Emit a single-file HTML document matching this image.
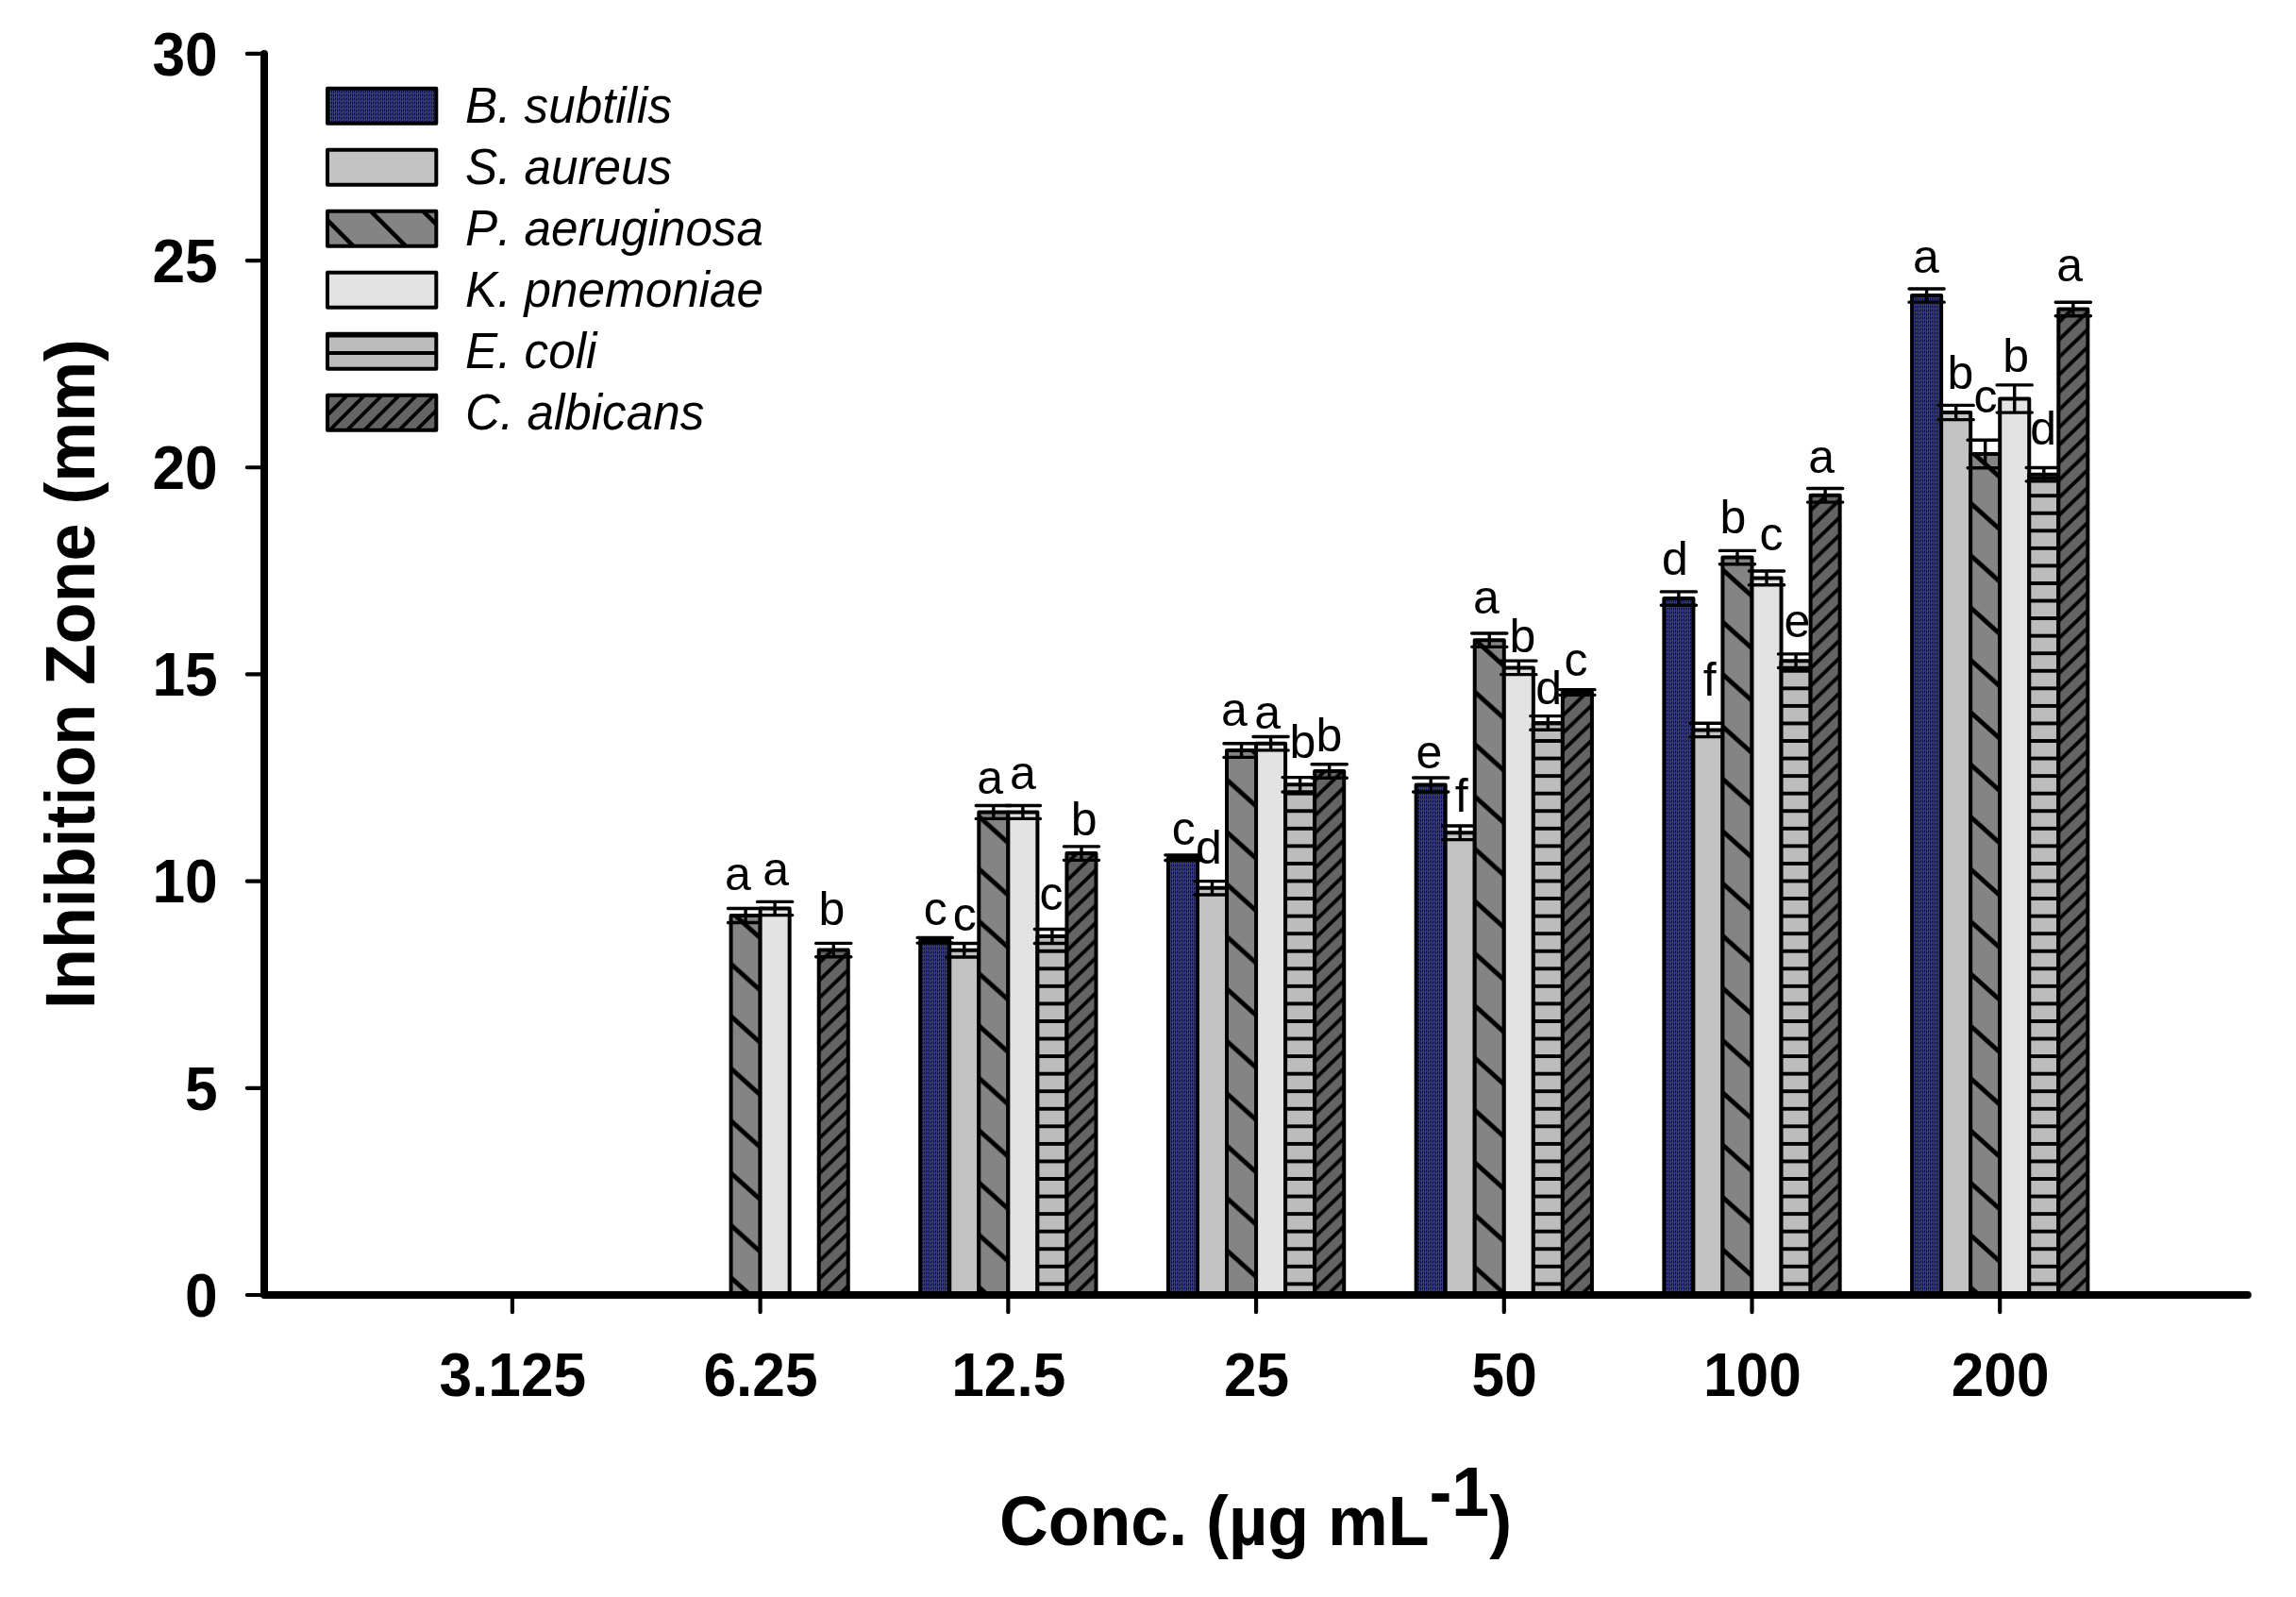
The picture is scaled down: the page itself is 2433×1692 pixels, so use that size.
<!DOCTYPE html>
<html lang="en"><head><meta charset="utf-8"><title>Inhibition Zone chart</title>
<style>html,body{margin:0;padding:0;background:#fff}body{width:2433px;height:1692px;overflow:hidden}svg{display:block}text{font-family:"Liberation Sans",sans-serif;fill:#000;font-kerning:none}.b{font-weight:bold}.i{font-style:italic}</style></head><body>
<svg width="2433" height="1692" viewBox="0 0 2433 1692">
<defs>
<pattern id="p1" patternUnits="userSpaceOnUse" width="4" height="4"><rect width="4" height="4" fill="#3e3e70"/><rect x="1" y="0" width="1" height="1" fill="#0404de"/><rect x="1" y="1" width="1" height="1" fill="#000000"/><rect x="1" y="2" width="1" height="1" fill="#282864"/><rect x="1" y="3" width="1" height="1" fill="#1e1eb4"/><rect x="3" y="0" width="1" height="1" fill="#000000"/><rect x="3" y="1" width="1" height="1" fill="#0404de"/><rect x="3" y="2" width="1" height="1" fill="#1e1eb4"/><rect x="3" y="3" width="1" height="1" fill="#282864"/></pattern>
<pattern id="p2" patternUnits="userSpaceOnUse" width="4" height="4"><rect width="4" height="4" fill="#c4c4c4"/><rect x="0" y="0" width="1" height="1" fill="#bebebe"/><rect x="2" y="1" width="1" height="1" fill="#bebebe"/><rect x="1" y="3" width="1" height="1" fill="#bfbfbf"/><rect x="3" y="2" width="1" height="1" fill="#c1c1c1"/></pattern>
<pattern id="p3g2" patternUnits="userSpaceOnUse" width="61.56" height="55.4" patternTransform="translate(0,47.2)"><rect width="62.56" height="56.4" fill="#848484"/><line x1="-61.56" y1="-110.8" x2="123.11" y2="55.4" stroke="#000" stroke-width="4.9"/><line x1="-61.56" y1="-55.4" x2="123.11" y2="110.8" stroke="#000" stroke-width="4.9"/><line x1="-61.56" y1="0" x2="123.11" y2="166.2" stroke="#000" stroke-width="4.9"/></pattern>
<pattern id="p3g3" patternUnits="userSpaceOnUse" width="61.56" height="55.4" patternTransform="translate(0,42.4)"><rect width="62.56" height="56.4" fill="#848484"/><line x1="-61.56" y1="-110.8" x2="123.11" y2="55.4" stroke="#000" stroke-width="4.9"/><line x1="-61.56" y1="-55.4" x2="123.11" y2="110.8" stroke="#000" stroke-width="4.9"/><line x1="-61.56" y1="0" x2="123.11" y2="166.2" stroke="#000" stroke-width="4.9"/></pattern>
<pattern id="p3g4" patternUnits="userSpaceOnUse" width="61.56" height="55.4" patternTransform="translate(0,44)"><rect width="62.56" height="56.4" fill="#848484"/><line x1="-61.56" y1="-110.8" x2="123.11" y2="55.4" stroke="#000" stroke-width="4.9"/><line x1="-61.56" y1="-55.4" x2="123.11" y2="110.8" stroke="#000" stroke-width="4.9"/><line x1="-61.56" y1="0" x2="123.11" y2="166.2" stroke="#000" stroke-width="4.9"/></pattern>
<pattern id="p3g5" patternUnits="userSpaceOnUse" width="61.56" height="55.4" patternTransform="translate(0,46.9)"><rect width="62.56" height="56.4" fill="#848484"/><line x1="-61.56" y1="-110.8" x2="123.11" y2="55.4" stroke="#000" stroke-width="4.9"/><line x1="-61.56" y1="-55.4" x2="123.11" y2="110.8" stroke="#000" stroke-width="4.9"/><line x1="-61.56" y1="0" x2="123.11" y2="166.2" stroke="#000" stroke-width="4.9"/></pattern>
<pattern id="p3g6" patternUnits="userSpaceOnUse" width="61.56" height="55.4" patternTransform="translate(0,13.4)"><rect width="62.56" height="56.4" fill="#848484"/><line x1="-61.56" y1="-110.8" x2="123.11" y2="55.4" stroke="#000" stroke-width="4.9"/><line x1="-61.56" y1="-55.4" x2="123.11" y2="110.8" stroke="#000" stroke-width="4.9"/><line x1="-61.56" y1="0" x2="123.11" y2="166.2" stroke="#000" stroke-width="4.9"/></pattern>
<pattern id="p3g7" patternUnits="userSpaceOnUse" width="61.56" height="55.4" patternTransform="translate(0,38.8)"><rect width="62.56" height="56.4" fill="#848484"/><line x1="-61.56" y1="-110.8" x2="123.11" y2="55.4" stroke="#000" stroke-width="4.9"/><line x1="-61.56" y1="-55.4" x2="123.11" y2="110.8" stroke="#000" stroke-width="4.9"/><line x1="-61.56" y1="0" x2="123.11" y2="166.2" stroke="#000" stroke-width="4.9"/></pattern>
<pattern id="p4" patternUnits="userSpaceOnUse" width="4" height="4"><rect width="4" height="4" fill="#e3e3e3"/><rect x="0" y="0" width="1" height="1" fill="#dbdbdb"/></pattern>
<pattern id="p5" patternUnits="userSpaceOnUse" width="40" height="18.56" patternTransform="translate(0,-70.7)"><rect width="40" height="19.56" fill="#bcbcbc"/><rect x="0" y="0" width="40" height="3.9" fill="#000"/></pattern>
<pattern id="p6" patternUnits="userSpaceOnUse" width="19.18" height="18.6" patternTransform="translate(0,2)"><rect width="20.18" height="19.6" fill="#646464"/><line x1="-19.18" y1="0" x2="38.35" y2="-55.8" stroke="#000" stroke-width="3.8"/><line x1="-19.18" y1="18.6" x2="38.35" y2="-37.2" stroke="#000" stroke-width="3.8"/><line x1="-19.18" y1="37.2" x2="38.35" y2="-18.6" stroke="#000" stroke-width="3.8"/><line x1="-19.18" y1="55.8" x2="38.35" y2="0" stroke="#000" stroke-width="3.8"/></pattern>
</defs>
<rect width="2433" height="1692" fill="#fff"/>
<g stroke="#000" stroke-linejoin="round" stroke-linecap="round">
<rect x="975.19" y="996.25" width="31.05" height="375.75" fill="url(#p1)" stroke-width="4"/>
<path d="M990.72 993.4V999.1M972.12 993.4H1009.32M972.12 999.1H1009.32" fill="none" stroke-width="3.4"/>
<rect x="1237.91" y="908.7" width="31.05" height="463.3" fill="url(#p1)" stroke-width="4"/>
<path d="M1253.43 905.85V911.55M1234.84 905.85H1272.03M1234.84 911.55H1272.03" fill="none" stroke-width="3.4"/>
<rect x="1500.63" y="831.5" width="31.05" height="540.5" fill="url(#p1)" stroke-width="4"/>
<path d="M1516.16 824.05V838.95M1497.56 824.05H1534.76M1497.56 838.95H1534.76" fill="none" stroke-width="3.4"/>
<rect x="1763.35" y="634.1" width="31.05" height="737.9" fill="url(#p1)" stroke-width="4"/>
<path d="M1778.88 626.9V641.3M1760.28 626.9H1797.47M1760.28 641.3H1797.47" fill="none" stroke-width="3.4"/>
<rect x="2026.07" y="313.1" width="31.05" height="1058.9" fill="url(#p1)" stroke-width="4"/>
<path d="M2041.6 306.05V320.15M2023 306.05H2060.2M2023 320.15H2060.2" fill="none" stroke-width="3.4"/>
<rect x="1006.24" y="1006.7" width="31.05" height="365.3" fill="url(#p2)" stroke-width="4"/>
<path d="M1021.77 999.45V1013.95M1003.17 999.45H1040.37M1003.17 1013.95H1040.37" fill="none" stroke-width="3.4"/>
<rect x="1268.96" y="940.8" width="31.05" height="431.2" fill="url(#p2)" stroke-width="4"/>
<path d="M1284.49 933.65V947.95M1265.89 933.65H1303.09M1265.89 947.95H1303.09" fill="none" stroke-width="3.4"/>
<rect x="1531.68" y="882.3" width="31.05" height="489.7" fill="url(#p2)" stroke-width="4"/>
<path d="M1547.21 874.95V889.65M1528.61 874.95H1565.81M1528.61 889.65H1565.81" fill="none" stroke-width="3.4"/>
<rect x="1794.4" y="773.4" width="31.05" height="598.6" fill="url(#p2)" stroke-width="4"/>
<path d="M1809.93 766.2V780.6M1791.33 766.2H1828.53M1791.33 780.6H1828.53" fill="none" stroke-width="3.4"/>
<rect x="2057.12" y="437" width="31.05" height="935" fill="url(#p2)" stroke-width="4"/>
<path d="M2072.65 429.4V444.6M2054.05 429.4H2091.25M2054.05 444.6H2091.25" fill="none" stroke-width="3.4"/>
<rect x="774.57" y="970" width="31.05" height="402" fill="url(#p3g2)" stroke-width="4"/>
<path d="M790.1 962.45V977.55M771.5 962.45H808.7M771.5 977.55H808.7" fill="none" stroke-width="3.4"/>
<rect x="1037.29" y="860.45" width="31.05" height="511.55" fill="url(#p3g3)" stroke-width="4"/>
<path d="M1052.82 853.5V867.4M1034.22 853.5H1071.42M1034.22 867.4H1071.42" fill="none" stroke-width="3.4"/>
<rect x="1300.01" y="795.1" width="31.05" height="576.9" fill="url(#p3g4)" stroke-width="4"/>
<path d="M1315.54 787.8V802.4M1296.94 787.8H1334.13M1296.94 802.4H1334.13" fill="none" stroke-width="3.4"/>
<rect x="1562.73" y="678.2" width="31.05" height="693.8" fill="url(#p3g5)" stroke-width="4"/>
<path d="M1578.26 671.05V685.35M1559.66 671.05H1596.86M1559.66 685.35H1596.86" fill="none" stroke-width="3.4"/>
<rect x="1825.45" y="590.6" width="31.05" height="781.4" fill="url(#p3g6)" stroke-width="4"/>
<path d="M1840.98 583.4V597.8M1822.38 583.4H1859.58M1822.38 597.8H1859.58" fill="none" stroke-width="3.4"/>
<rect x="2088.17" y="481" width="31.05" height="891" fill="url(#p3g7)" stroke-width="4"/>
<path d="M2103.7 466.2V495.8M2085.1 466.2H2122.3M2085.1 495.8H2122.3" fill="none" stroke-width="3.4"/>
<rect x="805.62" y="962.5" width="31.05" height="409.5" fill="url(#p4)" stroke-width="4"/>
<path d="M821.14 955.4V969.6M802.54 955.4H839.75M802.54 969.6H839.75" fill="none" stroke-width="3.4"/>
<rect x="1068.34" y="860.45" width="31.05" height="511.55" fill="url(#p4)" stroke-width="4"/>
<path d="M1083.87 853.5V867.4M1065.27 853.5H1102.47M1065.27 867.4H1102.47" fill="none" stroke-width="3.4"/>
<rect x="1331.06" y="787.7" width="31.05" height="584.3" fill="url(#p4)" stroke-width="4"/>
<path d="M1346.59 780.5V794.9M1327.99 780.5H1365.18M1327.99 794.9H1365.18" fill="none" stroke-width="3.4"/>
<rect x="1593.78" y="707.4" width="31.05" height="664.6" fill="url(#p4)" stroke-width="4"/>
<path d="M1609.31 700.15V714.65M1590.71 700.15H1627.91M1590.71 714.65H1627.91" fill="none" stroke-width="3.4"/>
<rect x="1856.5" y="612.4" width="31.05" height="759.6" fill="url(#p4)" stroke-width="4"/>
<path d="M1872.03 605.05V619.75M1853.43 605.05H1890.62M1853.43 619.75H1890.62" fill="none" stroke-width="3.4"/>
<rect x="2119.22" y="422.5" width="31.05" height="949.5" fill="url(#p4)" stroke-width="4"/>
<path d="M2134.75 407.9V437.1M2116.15 407.9H2153.35M2116.15 437.1H2153.35" fill="none" stroke-width="3.4"/>
<rect x="1099.39" y="992" width="31.05" height="380" fill="url(#p5)" stroke-width="4"/>
<path d="M1114.92 984.5V999.5M1096.32 984.5H1133.52M1096.32 999.5H1133.52" fill="none" stroke-width="3.4"/>
<rect x="1362.11" y="831.3" width="31.05" height="540.7" fill="url(#p5)" stroke-width="4"/>
<path d="M1377.63 823.6V839M1359.04 823.6H1396.23M1359.04 839H1396.23" fill="none" stroke-width="3.4"/>
<rect x="1624.83" y="765.9" width="31.05" height="606.1" fill="url(#p5)" stroke-width="4"/>
<path d="M1640.36 758.6V773.2M1621.76 758.6H1658.96M1621.76 773.2H1658.96" fill="none" stroke-width="3.4"/>
<rect x="1887.55" y="700.2" width="31.05" height="671.8" fill="url(#p5)" stroke-width="4"/>
<path d="M1903.08 692.9V707.5M1884.48 692.9H1921.67M1884.48 707.5H1921.67" fill="none" stroke-width="3.4"/>
<rect x="2150.27" y="502.7" width="31.05" height="869.3" fill="url(#p5)" stroke-width="4"/>
<path d="M2165.8 495.55V509.85M2147.2 495.55H2184.4M2147.2 509.85H2184.4" fill="none" stroke-width="3.4"/>
<rect x="867.72" y="1006.6" width="31.05" height="365.4" fill="url(#p6)" stroke-width="4"/>
<path d="M883.25 999.4V1013.8M864.64 999.4H901.85M864.64 1013.8H901.85" fill="none" stroke-width="3.4"/>
<rect x="1130.44" y="904.1" width="31.05" height="467.9" fill="url(#p6)" stroke-width="4"/>
<path d="M1145.97 896.85V911.35M1127.37 896.85H1164.57M1127.37 911.35H1164.57" fill="none" stroke-width="3.4"/>
<rect x="1393.16" y="817" width="31.05" height="555" fill="url(#p6)" stroke-width="4"/>
<path d="M1408.68 809.8V824.2M1390.09 809.8H1427.28M1390.09 824.2H1427.28" fill="none" stroke-width="3.4"/>
<rect x="1655.88" y="733.5" width="31.05" height="638.5" fill="url(#p6)" stroke-width="4"/>
<path d="M1671.41 730.65V736.35M1652.81 730.65H1690.01M1652.81 736.35H1690.01" fill="none" stroke-width="3.4"/>
<rect x="1918.6" y="524.8" width="31.05" height="847.2" fill="url(#p6)" stroke-width="4"/>
<path d="M1934.12 517.5V532.1M1915.53 517.5H1952.72M1915.53 532.1H1952.72" fill="none" stroke-width="3.4"/>
<rect x="2181.32" y="327.5" width="31.05" height="1044.5" fill="url(#p6)" stroke-width="4"/>
<path d="M2196.85 320.3V334.7M2178.25 320.3H2215.45M2178.25 334.7H2215.45" fill="none" stroke-width="3.4"/>
</g>
<g stroke="#000" stroke-linecap="round" fill="none">
<path d="M280 56.9V1372H2381.8" stroke-width="8" stroke-linejoin="round"/>
<path d="M261.8 1372H280M261.8 1152.82H280M261.8 933.63H280M261.8 714.45H280M261.8 495.27H280M261.8 276.08H280M261.8 56.9H280M542.9 1372V1390.2M805.62 1372V1390.2M1068.34 1372V1390.2M1331.06 1372V1390.2M1593.78 1372V1390.2M1856.5 1372V1390.2M2119.22 1372V1390.2" stroke-width="4.2"/>
</g>
<g class="b" font-size="62.2">
<text text-anchor="end" transform="translate(230.6,1394.8) scale(1,1.04)">0</text>
<text text-anchor="end" transform="translate(230.6,1175.62) scale(1,1.04)">5</text>
<text text-anchor="end" transform="translate(230.6,956.43) scale(1,1.04)">10</text>
<text text-anchor="end" transform="translate(230.6,737.25) scale(1,1.04)">15</text>
<text text-anchor="end" transform="translate(230.6,518.07) scale(1,1.04)">20</text>
<text text-anchor="end" transform="translate(230.6,298.88) scale(1,1.04)">25</text>
<text text-anchor="end" transform="translate(230.6,79.7) scale(1,1.04)">30</text>
<text text-anchor="middle" transform="translate(543.3,1479) scale(1,1.04)">3.125</text>
<text text-anchor="middle" transform="translate(806.02,1479) scale(1,1.04)">6.25</text>
<text text-anchor="middle" transform="translate(1068.74,1479) scale(1,1.04)">12.5</text>
<text text-anchor="middle" transform="translate(1331.46,1479) scale(1,1.04)">25</text>
<text text-anchor="middle" transform="translate(1594.18,1479) scale(1,1.04)">50</text>
<text text-anchor="middle" transform="translate(1856.9,1479) scale(1,1.04)">100</text>
<text text-anchor="middle" transform="translate(2119.62,1479) scale(1,1.04)">200</text>
</g>
<text class="b" font-size="71.8" text-anchor="middle" transform="translate(100.2,714) rotate(-90) scale(1,1.03)">Inhibition Zone (mm)</text>
<text class="b" font-size="71.7" text-anchor="middle" transform="translate(1330.5,1636.5) scale(1,1.03)">Conc. (µg mL<tspan dy="-30">-1</tspan><tspan dy="30">)</tspan></text>
<defs>
<clipPath id="lc0"><rect x="347" y="93.8" width="115.3" height="37"/></clipPath>
<clipPath id="lc1"><rect x="347" y="158.8" width="115.3" height="37"/></clipPath>
<clipPath id="lc2"><rect x="347" y="223.8" width="115.3" height="37"/></clipPath>
<clipPath id="lc3"><rect x="347" y="288.8" width="115.3" height="37"/></clipPath>
<clipPath id="lc4"><rect x="347" y="353.8" width="115.3" height="37"/></clipPath>
<clipPath id="lc5"><rect x="347" y="418.8" width="115.3" height="37"/></clipPath>
</defs>
<rect x="347" y="93.8" width="115.3" height="37" fill="url(#p1)"/>
<rect x="347" y="93.8" width="115.3" height="37" fill="none" stroke="#000" stroke-width="4" stroke-linejoin="round"/>
<text class="i" font-size="51.2" transform="translate(493,129.9) scale(1,1.03)">B. subtilis</text>
<rect x="347" y="158.8" width="115.3" height="37" fill="url(#p2)"/>
<rect x="347" y="158.8" width="115.3" height="37" fill="none" stroke="#000" stroke-width="4" stroke-linejoin="round"/>
<text class="i" font-size="51.2" transform="translate(493,194.9) scale(1,1.03)">S. aureus</text>
<rect x="347" y="223.8" width="115.3" height="37" fill="#848484"/>
<path d="M223.7 165.5L343.7 285.5M279.2 165.5L399.2 285.5M334.7 165.5L454.7 285.5M390.2 165.5L510.2 285.5M445.7 165.5L565.7 285.5" stroke="#000" stroke-width="4.6" fill="none" clip-path="url(#lc2)"/>
<rect x="347" y="223.8" width="115.3" height="37" fill="none" stroke="#000" stroke-width="4" stroke-linejoin="round"/>
<text class="i" font-size="51.2" transform="translate(493,259.9) scale(1,1.03)">P. aeruginosa</text>
<rect x="347" y="288.8" width="115.3" height="37" fill="url(#p4)"/>
<rect x="347" y="288.8" width="115.3" height="37" fill="none" stroke="#000" stroke-width="4" stroke-linejoin="round"/>
<text class="i" font-size="51.2" transform="translate(493,324.9) scale(1,1.03)">K. pnemoniae</text>
<rect x="347" y="353.8" width="115.3" height="37" fill="#bcbcbc"/>
<path d="M347 355.6H462.3M347 374H462.3M347 392.4H462.3" stroke="#000" stroke-width="4" fill="none" clip-path="url(#lc4)"/>
<rect x="347" y="353.8" width="115.3" height="37" fill="none" stroke="#000" stroke-width="4" stroke-linejoin="round"/>
<text class="i" font-size="51.2" transform="translate(493,389.9) scale(1,1.03)">E. coli</text>
<rect x="347" y="418.8" width="115.3" height="37" fill="#646464"/>
<path d="M246.4 503.5L346.4 403.5M264.8 503.5L364.8 403.5M283.2 503.5L383.2 403.5M301.6 503.5L401.6 403.5M320 503.5L420 403.5M338.4 503.5L438.4 403.5M356.8 503.5L456.8 403.5M375.2 503.5L475.2 403.5M393.6 503.5L493.6 403.5M412 503.5L512 403.5M430.4 503.5L530.4 403.5" stroke="#000" stroke-width="3.8" fill="none" clip-path="url(#lc5)"/>
<rect x="347" y="418.8" width="115.3" height="37" fill="none" stroke="#000" stroke-width="4" stroke-linejoin="round"/>
<text class="i" font-size="51.2" transform="translate(493,454.9) scale(1,1.03)">C. albicans</text>
<g font-size="50">
<text x="767.95" y="942.5">a</text>
<text x="808.15" y="937.8">a</text>
<text x="867.4" y="980.2">b</text>
<text x="978.7" y="980.2">c</text>
<text x="1009.7" y="986.2">c</text>
<text x="1035.15" y="840.6">a</text>
<text x="1070.1" y="835.9">a</text>
<text x="1101.6" y="964">c</text>
<text x="1134.65" y="885.3">b</text>
<text x="1241.7" y="895.2">c</text>
<text x="1267.1" y="914.9">d</text>
<text x="1294.05" y="768.7">a</text>
<text x="1329.25" y="771.6">a</text>
<text x="1366.6" y="802.8">b</text>
<text x="1394.6" y="795.7">b</text>
<text x="1500.55" y="814.2">e</text>
<text x="1541.8" y="860.1">f</text>
<text x="1560.95" y="649.8">a</text>
<text x="1599.6" y="690.9">b</text>
<text x="1627.35" y="745.9">d</text>
<text x="1657.5" y="715.8">c</text>
<text x="1761" y="608.7">d</text>
<text x="1804.7" y="737.4">f</text>
<text x="1822.5" y="565.2">b</text>
<text x="1864.6" y="583.2">c</text>
<text x="1890.55" y="674.8">e</text>
<text x="1916.15" y="500.6">a</text>
<text x="2027.05" y="289.1">a</text>
<text x="2063.5" y="412">b</text>
<text x="2091.6" y="437.4">c</text>
<text x="2122.3" y="393.9">b</text>
<text x="2151.2" y="471">d</text>
<text x="2179.25" y="297.7">a</text>
</g>
</svg></body></html>
